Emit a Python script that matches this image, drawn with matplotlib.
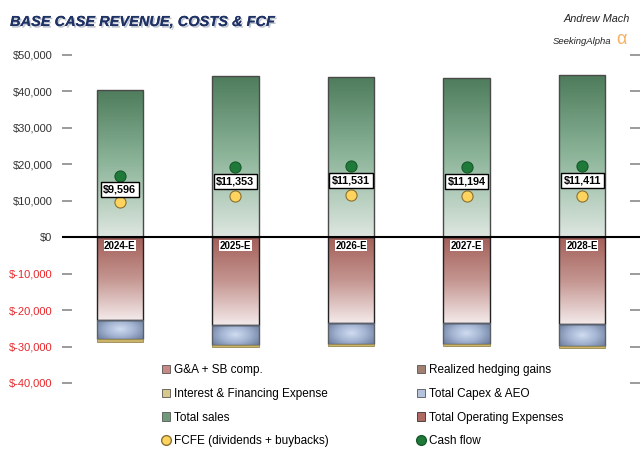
import numpy as np
import matplotlib
matplotlib.use("Agg")
import matplotlib.pyplot as plt
from matplotlib.colors import LinearSegmentedColormap
from matplotlib.patches import Patch
from matplotlib.lines import Line2D
import matplotlib.patheffects as pe

plt.rcParams['font.family'] = ['Liberation Sans', 'DejaVu Sans']

years = ["2024-E", "2025-E", "2026-E", "2027-E", "2028-E"]
total_sales = [40450, 44250, 44050, 43650, 44400]
total_opex = [-22600, -24050, -23500, -23500, -23850]
capex_aeo = [-5450, -5550, -5800, -5800, -6000]
interest_fin = [-650, -450, -500, -500, -450]
ga_sb = [0, 0, 0, 0, 0]
hedging = [0, 0, 0, 0, 0]
cash_flow = [16750, 19200, 19650, 19400, 19650]
fcfe = [9596, 11353, 11531, 11194, 11411]
yticks = [50000, 40000, 30000, 20000, 10000, 0, -10000, -20000, -30000, -40000]

fig = plt.figure(figsize=(6.4, 4.53), dpi=100)
ax = fig.add_axes([62/640, 1-383/453, 578/640, (383-55)/453])
x = np.arange(len(years))
w = 0.4

green_cm = LinearSegmentedColormap.from_list("g", ["#dde6e0", "#8db59a", "#4e7c5c"])
red_cm = LinearSegmentedColormap.from_list("r", ["#f3e9e9", "#c49590", "#a45f59"])
blue_cm = LinearSegmentedColormap.from_list("b", ["#d0dcf0", "#a3b4d2", "#6d7e9e"])

def grad_fill(bars, cmap, radial=False):
    for b in bars:
        x0, y0 = b.get_x(), b.get_y()
        bw, bh = b.get_width(), b.get_height()
        if bh == 0:
            continue
        ylo, yhi = min(y0, y0 + bh), max(y0, y0 + bh)
        if radial:
            xx, yy = np.meshgrid(np.linspace(-1, 1, 60), np.linspace(-1, 1, 30))
            img = np.clip(np.sqrt(xx**2 + (yy*0.8)**2) / 1.25, 0, 1)
        else:
            img = np.linspace(0, 1, 100).reshape(-1, 1)
        im = ax.imshow(img, cmap=cmap, aspect='auto', origin='lower',
                       extent=[x0, x0 + bw, ylo, yhi], zorder=2, vmin=0, vmax=1)
        im.set_clip_path(b)

b_sales = ax.bar(x, total_sales, w, facecolor='none', edgecolor='#4a4a4a', linewidth=1.0, zorder=3)
b_opex = ax.bar(x, total_opex, w, facecolor='none', edgecolor='#222222', linewidth=1.0, zorder=3)
b_capex = ax.bar(x, capex_aeo, w, bottom=total_opex, facecolor='none', edgecolor='#5a5f6a', linewidth=1.0, zorder=3)
bottom2 = np.array(total_opex) + np.array(capex_aeo)
b_int = ax.bar(x, interest_fin, w, bottom=bottom2, facecolor='#c9b46a', edgecolor='#9a8a50', linewidth=0.6, zorder=3)
bottom3 = bottom2 + np.array(interest_fin)
ax.bar(x, ga_sb, w, bottom=bottom3, facecolor='#c98a86', zorder=3)
ax.bar(x, hedging, w, bottom=total_sales, facecolor='#8e6f60', zorder=3)

grad_fill(b_sales, green_cm)
grad_fill(b_opex, red_cm)
grad_fill(b_capex, blue_cm, radial=True)

ax.plot(x, cash_flow, 'o', color='#1f7a3a', mec='#155a28', mew=0.8, ms=8, zorder=5, linestyle='none')
ax.plot(x, fcfe, 'o', color='#ffd45e', mec='#8a7030', mew=0.8, ms=8, zorder=5, linestyle='none')

for xi, cf, fv in zip(x, cash_flow, fcfe):
    ax.text(xi, (cf + fv) / 2, f"${fv:,.0f}", ha='center', va='center', fontsize=7.8,
            fontweight='bold', zorder=6,
            bbox=dict(boxstyle='square,pad=0.25', facecolor='white', edgecolor='black', linewidth=1.0))

for xi, lab in zip(x, years):
    ax.text(xi, -1000, lab, ha='center', va='top', fontsize=7, fontweight='bold', zorder=6,
            bbox=dict(boxstyle='square,pad=0.05', facecolor='white', edgecolor='none'))

ax.axhline(0, color='black', linewidth=1.5, zorder=4)
ax.set_xlim(-0.5, 4.5)
ax.set_ylim(-40000, 50000)
for s in ax.spines.values():
    s.set_visible(False)
ax.set_xticks([])
ax.set_yticks(yticks)
ax.set_yticklabels([f"${v:,.0f}" if v >= 0 else f"$-{abs(v):,.0f}" for v in yticks], fontsize=8)
for t, v in zip(ax.get_yticklabels(), yticks):
    t.set_color('#e8282b' if v < 0 else '#333333')
ax.tick_params(axis='y', direction='in', length=7, width=1.2, color='#8a8a8a', pad=7,
               right=True, left=True)

fig.text(10/640, 1-22/453, "BASE CASE REVENUE, COSTS & FCF", fontsize=10.5, fontweight='bold',
         fontstyle='italic', color='#1f3266', va='center', ha='left',
         path_effects=[pe.withSimplePatchShadow(offset=(1.2, -1.2), shadow_rgbFace='#9aa0b0', alpha=0.6), pe.Normal()])
fig.text(630/640, 1-19/453, "Andrew Mach", fontsize=7.8, fontstyle='italic', color='#222222', ha='right', va='center')
fig.text(611/640, 1-42/453, "SeekingAlpha", fontsize=6.8, fontstyle='italic', color='#222222', ha='right', va='center')
fig.text(616/640, 1-40/453, "\u03b1", fontsize=13, color='#f8b060', ha='left', va='center')

handles = [
    Patch(facecolor='#c98a86', edgecolor='#555555', linewidth=0.6),
    Patch(facecolor='#d8c88a', edgecolor='#555555', linewidth=0.6),
    Patch(facecolor='#6f9a7c', edgecolor='#555555', linewidth=0.6),
    Line2D([], [], marker='o', linestyle='none', color='#ffd45e', mec='#8a7030', ms=7),
    Patch(facecolor='#a08070', edgecolor='#555555', linewidth=0.6),
    Patch(facecolor='#b4c2dc', edgecolor='#555555', linewidth=0.6),
    Patch(facecolor='#b06a64', edgecolor='#333333', linewidth=0.6),
    Line2D([], [], marker='o', linestyle='none', color='#1f7a3a', mec='#155a28', ms=7),
]
labels = ["G&A + SB comp.", "Interest & Financing Expense", "Total sales", "FCFE (dividends + buybacks)",
          "Realized hedging gains", "Total Capex & AEO", "Total Operating Expenses", "Cash flow"]
fig.legend(handles, labels, ncol=2, loc='upper left', bbox_to_anchor=(162/640, 1-364/453),
           frameon=False, fontsize=8.5, handlelength=0.7, handleheight=0.7, handletextpad=0.3,
           columnspacing=7.5, labelspacing=1.0, borderaxespad=0, borderpad=0)

fig.savefig("out.png", dpi=100)
